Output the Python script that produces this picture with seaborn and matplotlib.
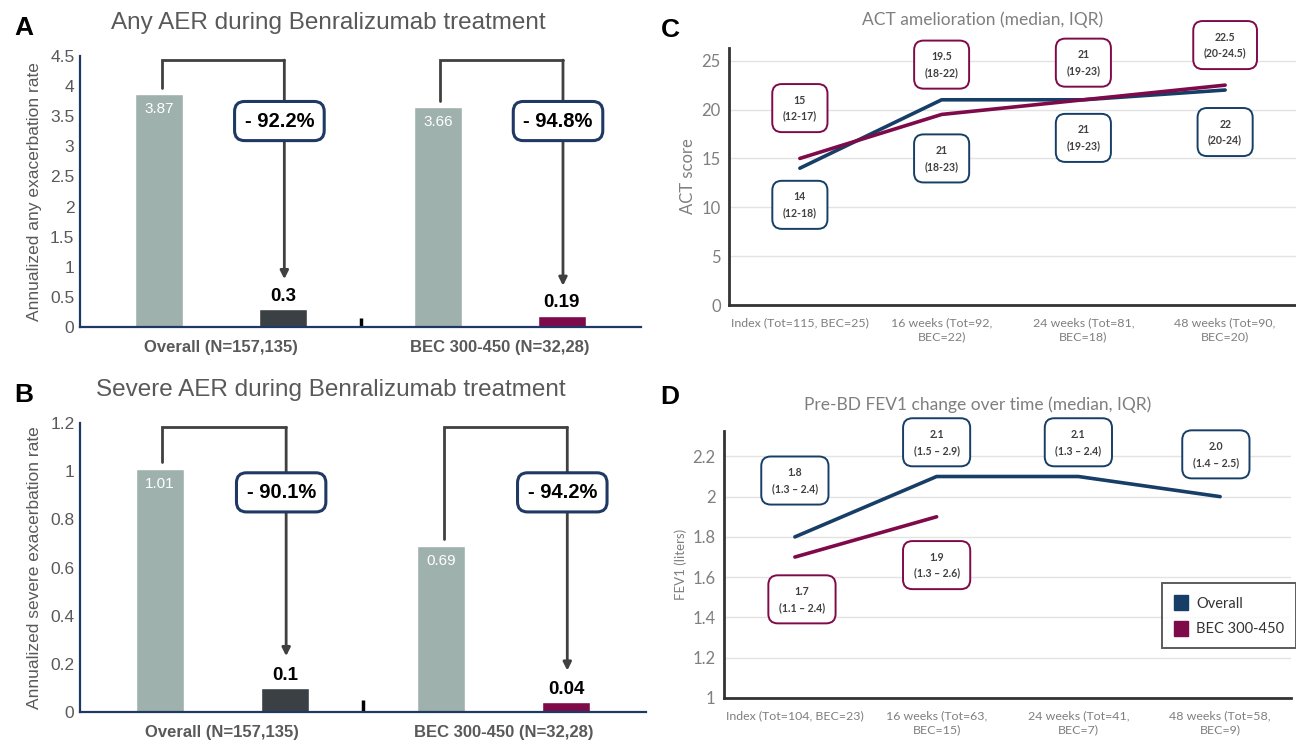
import numpy as np
import pandas as pd
import matplotlib
matplotlib.use("Agg")
import matplotlib.pyplot as plt
import seaborn as sns
from matplotlib.patches import Patch
from matplotlib.ticker import FuncFormatter

# -------------------------------
# Data
# -------------------------------

groups = ["Overall (N=157,135)", "BEC 300-450 (N=32,28)"]

any_baseline = [3.87, 3.66]
any_treated = [0.3, 0.19]
any_change = ["- 92.2%", "- 94.8%"]

severe_baseline = [1.01, 0.69]
severe_treated = [0.1, 0.04]
severe_change = ["- 90.1%", "- 94.2%"]

act_visits = ["Index (Tot=115, BEC=25)", "16 weeks (Tot=92,\nBEC=22)",
              "24 weeks (Tot=81,\nBEC=18)", "48 weeks (Tot=90,\nBEC=20)"]
act_overall = [14, 21, 21, 22]
act_overall_iqr = ["12-18", "18-23", "19-23", "20-24"]
act_bec = [15, 19.5, 21, 22.5]
act_bec_iqr = ["12-17", "18-22", "19-23", "20-24.5"]

fev_visits = ["Index (Tot=104, BEC=23)", "16 weeks (Tot=63,\nBEC=15)",
              "24 weeks (Tot=41,\nBEC=7)", "48 weeks (Tot=58,\nBEC=9)"]
fev_overall = [1.8, 2.1, 2.1, 2.0]
fev_overall_iqr = ["1.3 – 2.4", "1.5 – 2.9", "1.3 – 2.4", "1.4 – 2.5"]
fev_bec = [1.7, 1.9, np.nan, np.nan]
fev_bec_iqr = ["1.1 – 2.4", "1.3 – 2.6"]

# -------------------------------
# Style
# -------------------------------

GRAY_BAR = "#9FB1AD"
DARK_BAR = "#3A4044"
MAROON = "#7E0A4A"
NAVY = "#173E66"
BOX_BLUE = "#1F3864"
TXT_GRAY = "#595959"
LIGHT_TXT = "#7F7F7F"

NARROW = ["Liberation Sans Narrow", "Liberation Sans", "DejaVu Sans"]
ARIAL = ["Liberation Sans", "DejaVu Sans"]
CALIB = ["Lato", "DejaVu Sans"]

sns.set_theme(style="white")
plt.rcParams["font.family"] = ARIAL

W, H = 1296, 742
fig = plt.figure(figsize=(W / 100, H / 100), dpi=100)


def px_axes(left, top, right, bottom):
    return fig.add_axes([left / W, 1 - bottom / H, (right - left) / W, (bottom - top) / H])


bar_x = [0, 1, 2.25, 3.25]

# -------------------------------
# Panels A and B (bars)
# -------------------------------


def aer_panel(ax, baseline, treated, change, ymax, ystep, ylabel, sep_h):
    df = pd.DataFrame({
        "x": bar_x,
        "rate": [baseline[0], treated[0], baseline[1], treated[1]],
        "kind": ["b0", "t0", "b1", "t1"],
    })
    sns.barplot(data=df, x="x", y="rate", hue="kind",
                palette=[GRAY_BAR, DARK_BAR, GRAY_BAR, MAROON],
                native_scale=True, width=0.39, dodge=False, legend=False,
                errorbar=None, saturation=1, ax=ax)

    ax.set_xlim(-0.64, 3.89)
    ax.set_ylim(0, ymax)
    ax.set_yticks(np.arange(0, ymax + ystep / 2, ystep))
    ax.yaxis.set_major_formatter(FuncFormatter(lambda v, p: "%g" % round(v, 2)))
    ax.set_xticks([0.5, 2.75])
    ax.set_xticklabels(groups, fontweight="bold", color=TXT_GRAY,
                       fontsize=12, family=NARROW)
    for t in ax.get_yticklabels():
        t.set_family(NARROW)
        t.set_color(TXT_GRAY)
        t.set_fontsize(12.5)
    ax.tick_params(axis="y", length=0, pad=4)
    ax.tick_params(axis="x", length=0, pad=9)
    ax.set_xlabel("")
    ax.set_ylabel(ylabel, color=TXT_GRAY, fontsize=12.5, labelpad=6)

    for s in ["top", "right"]:
        ax.spines[s].set_visible(False)
    for s in ["left", "bottom"]:
        ax.spines[s].set_color(BOX_BLUE)
        ax.spines[s].set_linewidth(1.6)

    # group separator tick
    ax.plot([1.625, 1.625], [0.004, sep_h], color="black", lw=2.5,
            solid_capstyle="butt", transform=ax.get_xaxis_transform(),
            clip_on=False)

    top = ymax * 0.985
    for i in range(2):
        xb, xt = bar_x[2 * i], bar_x[2 * i + 1]
        b, t = baseline[i], treated[i]
        # value labels
        ax.annotate("%g" % b, (xb, b), xytext=(0, -6), textcoords="offset points",
                    ha="center", va="top", color="white", fontsize=11,
                    family=NARROW)
        ax.annotate("%g" % t, (xt, t), xytext=(0, 3), textcoords="offset points",
                    ha="center", va="bottom", color="black", fontsize=13.5,
                    fontweight="bold", family=NARROW)
        # bracket and arrow
        start = b + ymax * 0.022
        tip = t + ymax * 0.11
        ax.plot([xb + 0.02, xb + 0.02, xt + 0.01], [start, top, top],
                color="#404040", lw=2, solid_joinstyle="miter", zorder=3)
        ax.annotate("", xy=(xt + 0.01, tip), xytext=(xt + 0.01, top),
                    arrowprops=dict(arrowstyle="-|>", color="#404040", lw=2,
                                    shrinkA=0, shrinkB=0, mutation_scale=12),
                    zorder=3)
        ax.text(xt - 0.03, ymax * 0.76, change[i], ha="center", va="center",
                fontsize=14.5, fontweight="bold", color="black", family=NARROW,
                zorder=5,
                bbox=dict(boxstyle="round,pad=0.5,rounding_size=0.5",
                          fc="white", ec=BOX_BLUE, lw=2.2))


axA = px_axes(80, 56, 641, 327)
aer_panel(axA, any_baseline, any_treated, any_change, 4.5, 0.5,
          "Annualized any exacerbation rate", 0.035)
axB = px_axes(80, 423, 646, 712)
aer_panel(axB, severe_baseline, severe_treated, severe_change, 1.2, 0.2,
          "Annualized severe exacerbation rate", 0.04)

fig.text(328 / W, 1 - 23 / H, "Any AER during Benralizumab treatment",
         ha="center", va="center", fontsize=17.5, color=TXT_GRAY)
fig.text(331 / W, 1 - 390 / H, "Severe AER during Benralizumab treatment",
         ha="center", va="center", fontsize=17.5, color=TXT_GRAY)

# -------------------------------
# Panels C and D (lines)
# -------------------------------


def trend_panel(ax, visits, overall, bec, ymin, ymax, yticks, fmt, ylabel,
                ylabel_size):
    df = pd.DataFrame({
        "visit": list(range(4)) * 2,
        "value": list(overall) + list(bec),
        "group": ["Overall"] * 4 + ["BEC 300-450"] * 4,
    })
    sns.lineplot(data=df.dropna(), x="visit", y="value", hue="group",
                 hue_order=["Overall", "BEC 300-450"], palette=[NAVY, MAROON],
                 lw=2.6, legend=False, ax=ax)
    ax.set_xlim(-0.5, 3.5)
    ax.set_ylim(ymin, ymax)
    ax.set_yticks(yticks)
    ax.yaxis.set_major_formatter(FuncFormatter(fmt))
    ax.set_xticks(range(4))
    ax.set_xticklabels(visits, fontsize=8.9, color=LIGHT_TXT, family=CALIB,
                       linespacing=1.35)
    for t in ax.get_yticklabels():
        t.set_family(CALIB)
        t.set_color(LIGHT_TXT)
        t.set_fontsize(12)
    ax.tick_params(axis="y", length=0, pad=6)
    ax.tick_params(axis="x", length=0, pad=8.5)
    ax.set_xlabel("")
    ax.set_ylabel(ylabel, color=LIGHT_TXT, fontsize=ylabel_size, family=CALIB)
    ax.grid(axis="y", color="#E3E3E3", lw=1)
    ax.set_axisbelow(True)
    for s in ["top", "right"]:
        ax.spines[s].set_visible(False)
    for s in ["left", "bottom"]:
        ax.spines[s].set_color("#333333")
        ax.spines[s].set_linewidth(2)


def iqr_box(ax, x, y, text, color):
    ax.text(x, y, text, ha="center", va="center", fontsize=7.6,
            fontweight="bold", color="#404040", family=CALIB, linespacing=1.55,
            zorder=5, clip_on=False,
            bbox=dict(boxstyle="round,pad=1.0,rounding_size=0.9",
                      fc="white", ec=color, lw=1.4))


axC = px_axes(729, 48, 1296, 305)
trend_panel(axC, act_visits, act_overall, act_bec, 0, 26.3, range(0, 26, 5),
            lambda v, p: "%g" % v, "ACT score", 12)

act_overall_box_y = [10.25, 15.0, 17.1, 17.7]
act_bec_box_y = [20.15, 24.6, 24.8, 26.6]
for i in range(4):
    iqr_box(axC, i, act_overall_box_y[i],
            "%g\n(%s)" % (act_overall[i], act_overall_iqr[i]), NAVY)
    iqr_box(axC, i, act_bec_box_y[i],
            "%g\n(%s)" % (act_bec[i], act_bec_iqr[i]), MAROON)

axD = px_axes(724, 431, 1291, 698)
trend_panel(axD, fev_visits, fev_overall, fev_bec, 1, 2.326,
            np.arange(1, 2.21, 0.2), lambda v, p: "%g" % round(v, 1),
            "FEV1 (liters)", 9.5)

fev_overall_box_y = [2.08, 2.27, 2.27, 2.21]
fev_overall_box_dx = [0, 0, 0, -0.03]
fev_bec_box_y = [1.49, 1.66]
fev_bec_box_dx = [0.05, 0]
for i in range(4):
    iqr_box(axD, i + fev_overall_box_dx[i], fev_overall_box_y[i],
            "%.1f\n(%s)" % (fev_overall[i], fev_overall_iqr[i]), NAVY)
for i in range(2):
    iqr_box(axD, i + fev_bec_box_dx[i], fev_bec_box_y[i],
            "%.1f\n(%s)" % (fev_bec[i], fev_bec_iqr[i]), MAROON)

handles = [Patch(facecolor=NAVY, edgecolor=NAVY),
           Patch(facecolor=MAROON, edgecolor=MAROON)]
leg = axD.legend(handles, ["Overall", "BEC 300-450"], loc="lower right",
                 bbox_to_anchor=(1.009, 0.187), borderaxespad=0, frameon=True,
                 fancybox=False, edgecolor="#333333", handlelength=0.95,
                 handleheight=1.25, handletextpad=0.6, borderpad=0.8,
                 labelspacing=0.7, prop={"family": CALIB, "size": 10.5})
leg.get_frame().set_linewidth(1.4)
for t in leg.get_texts():
    t.set_color("#333333")

fig.text(983 / W, 1 - 20 / H, "ACT amelioration (median, IQR)",
         ha="center", va="center", fontsize=12.5, color=LIGHT_TXT, family=CALIB)
fig.text(978 / W, 1 - 405 / H, "Pre-BD FEV1 change over time (median, IQR)",
         ha="center", va="center", fontsize=12.5, color=LIGHT_TXT, family=CALIB)

# panel letters
for letter, x, y in [("A", 24, 28), ("B", 24, 395), ("C", 670, 30), ("D", 670, 397)]:
    fig.text(x / W, 1 - y / H, letter, ha="center", va="center",
             fontsize=19, fontweight="bold", color="black", family=ARIAL)

fig.savefig("out.png", dpi=100)
